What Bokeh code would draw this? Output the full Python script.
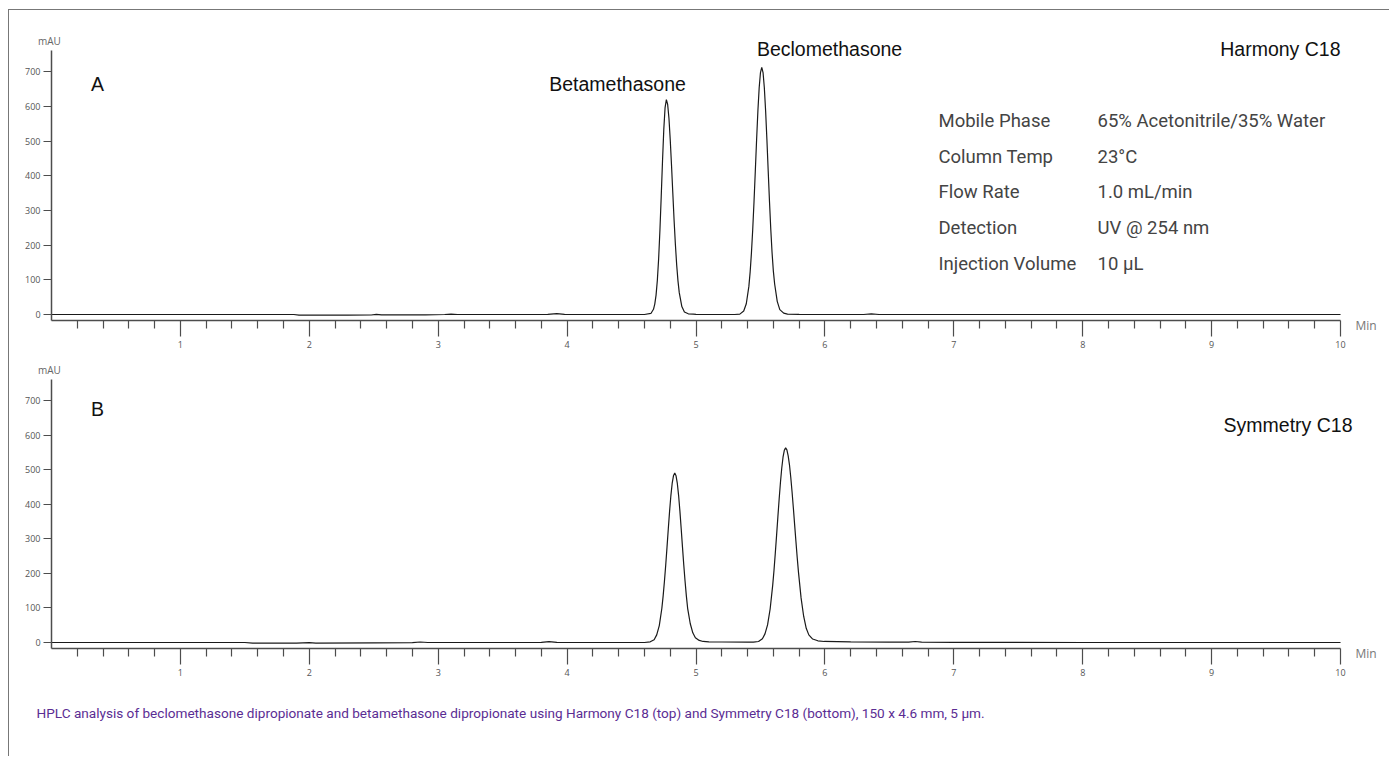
from bokeh.plotting import figure
from bokeh.models import FixedTicker, Label, Range1d, LinearAxis
from bokeh.layouts import column
from bokeh.embed import file_html
from bokeh.resources import INLINE

# ---------------- data ----------------
# Panel A: Harmony C18 (time in min, signal in mAU)
a_time = [0.0, 0.5, 1.0, 1.5, 1.88, 1.92, 2.3, 2.48, 2.52, 2.56, 2.9, 3.05, 3.1, 3.15,
          3.6, 3.85, 3.92, 3.98, 4.2, 4.55,
          4.60, 4.65, 4.67, 4.68, 4.69, 4.70, 4.71, 4.72, 4.73, 4.74, 4.75, 4.76, 4.77,
          4.78, 4.79, 4.80, 4.81, 4.82, 4.83, 4.84, 4.85, 4.86, 4.87, 4.89, 4.91, 4.94, 4.98,
          5.0, 5.2, 5.3,
          5.34, 5.37, 5.39, 5.41, 5.42, 5.43, 5.44, 5.45, 5.46, 5.47, 5.48, 5.49, 5.50, 5.51,
          5.52, 5.53, 5.54, 5.55, 5.56, 5.57, 5.58, 5.59, 5.60, 5.61, 5.63, 5.65, 5.68, 5.71, 5.8,
          6.0, 6.3, 6.36, 6.42, 7.0, 8.0, 9.0, 10.0]
a_signal = [0, 0, 0, 0, 0, -2, -2, -1.5, 0.5, -1, -1, 0, 1, 0,
            0, 0.5, 2.5, 0.5, 0, 0,
            0, 3, 15, 30, 56, 99, 161, 243, 340, 442, 534, 597, 620,
            606, 566, 504, 430, 350, 271, 202, 143, 97, 63, 23, 7, 2, 1,
            0.5, 0, 0,
            1, 10, 31, 81, 123, 178, 246, 326, 414, 504, 587, 654, 698, 713,
            698, 654, 587, 504, 414, 326, 246, 178, 125, 88, 38, 14, 4, 1, 0.5,
            0, 0, 2, 0, 0, 0, 0, 0]

# Panel B: Symmetry C18
b_time = [0.0, 0.5, 1.0, 1.5, 1.56, 1.9, 2.0, 2.05, 2.5, 2.8, 2.86, 2.92, 3.5, 3.8,
          3.86, 3.92, 4.3, 4.6,
          4.645, 4.675, 4.695, 4.715, 4.735, 4.745, 4.755, 4.765, 4.775, 4.785, 4.795, 4.805,
          4.815, 4.825, 4.835, 4.845, 4.855, 4.865, 4.875, 4.885, 4.895, 4.905, 4.915, 4.925,
          4.935, 4.955, 4.975, 4.995, 5.025, 5.055, 5.1,
          5.2, 5.4,
          5.445, 5.485, 5.515, 5.535, 5.555, 5.575, 5.595, 5.605, 5.615, 5.625, 5.635, 5.645,
          5.655, 5.665, 5.675, 5.685, 5.695, 5.705, 5.715, 5.725, 5.735, 5.745, 5.755, 5.765,
          5.775, 5.785, 5.795, 5.815, 5.835, 5.855, 5.875, 5.905, 5.945, 5.995,
          6.2, 6.5, 6.65, 6.7, 6.75, 7.0, 8.0, 9.0, 10.0]
b_signal = [0, 0, 0, 0, -2, -2, -0.5, -1.5, -1, -0.5, 1.5, 0, 0, 0.5,
            2.5, 0.5, 0, 0,
            2, 8, 22, 49, 99, 135, 177, 224, 276, 329, 380, 425,
            460, 482, 490, 482, 460, 425, 380, 329, 276, 224, 177, 135,
            99, 55, 28, 14, 6, 3, 2,
            1.5, 1,
            1, 3, 11, 25, 51, 97, 166, 209, 258, 310, 363, 415,
            463, 504, 536, 556, 563, 557, 540, 514, 478, 436, 390, 341,
            293, 246, 203, 129, 76, 41, 22, 10, 5, 3,
            2, 1, 1, 3, 1, 0.5, 0, 0, 0]

x_major_ticks = [1, 2, 3, 4, 5, 6, 7, 8, 9, 10]
x_minor_ticks = [round(i * 0.2, 1) for i in range(1, 50) if i % 5 != 0]
y_ticks = [0, 100, 200, 300, 400, 500, 600, 700]

info_labels = ["Mobile Phase", "Column Temp", "Flow Rate", "Detection", "Injection Volume"]
info_values = ["65% Acetonitrile/35% Water", "23\u00b0C", "1.0 mL/min", "UV @ 254 nm", "10 \u00b5L"]

caption = ("HPLC analysis of beclomethasone dipropionate and betamethasone dipropionate "
           "using Harmony C18 (top) and Symmetry C18 (bottom), 150 x 4.6 mm, 5 \u00b5m.")

AXIS_COLOR = "#4d4d4d"
ARIAL = "Liberation Sans"
FIG_W = 1380
X_RANGE = (-0.326, 10.38)
Y_AXIS_BOUNDS = (-17, 762)


def make_panel(t, s, height, y_start, y_end):
    p = figure(width=FIG_W, height=height, title=None,
               x_range=Range1d(*X_RANGE), y_range=Range1d(y_start, y_end),
               x_axis_location=None, y_axis_location=None,
               output_backend="svg", toolbar_location=None,
               min_border=0, min_border_left=0, min_border_right=0,
               min_border_top=0, min_border_bottom=0)
    p.grid.visible = False
    p.outline_line_color = None
    p.background_fill_color = "white"
    p.border_fill_color = "white"

    xaxis = LinearAxis(fixed_location=Y_AXIS_BOUNDS[0], bounds=(0, 10),
                       ticker=FixedTicker(ticks=x_major_ticks, minor_ticks=x_minor_ticks))
    xaxis.major_tick_out = 16
    xaxis.major_tick_in = 0
    xaxis.minor_tick_out = 8
    xaxis.minor_tick_in = 0
    xaxis.major_label_standoff = 5

    yaxis = LinearAxis(fixed_location=0, bounds=Y_AXIS_BOUNDS,
                       ticker=FixedTicker(ticks=y_ticks, minor_ticks=[]))
    yaxis.major_tick_out = 8
    yaxis.major_tick_in = 0
    yaxis.minor_tick_out = 0
    yaxis.minor_tick_in = 0
    yaxis.major_label_standoff = 3

    for ax in (xaxis, yaxis):
        ax.axis_line_color = AXIS_COLOR
        ax.axis_line_width = 1.5
        ax.major_tick_line_color = AXIS_COLOR
        ax.major_tick_line_width = 1.2
        ax.minor_tick_line_color = AXIS_COLOR
        ax.minor_tick_line_width = 1.2
        ax.major_label_text_font = "Open Sans"
        ax.major_label_text_font_size = "9px"
        ax.major_label_text_color = "#555555"
    p.add_layout(xaxis, "below")
    p.add_layout(yaxis, "left")

    p.line(t, s, line_color="#1a1a1a", line_width=1.2)

    p.add_layout(Label(x=-0.016, y=Y_AXIS_BOUNDS[1] + 27, text="mAU",
                       text_font="Open Sans", text_font_size="10px",
                       text_color="#666666", text_align="center",
                       text_baseline="middle"))
    p.add_layout(Label(x=10.116, y=Y_AXIS_BOUNDS[0] - 15, text="Min",
                       text_font="Open Sans", text_font_size="12px",
                       text_color="#777777", text_align="left",
                       text_baseline="middle"))
    return p


# page px: panel A zero at y=314 (34.66 px / 100 mAU), panel B zero at y=642
p1 = make_panel(a_time, a_signal, 351, -135.6, 877.0)
p2 = make_panel(b_time, b_signal, 330, -141.7, 812.8)

big = dict(text_font=ARIAL, text_font_size="19.5px", text_color="#111111",
           text_baseline="middle")
p1.add_layout(Label(x=0.357, y=666, text="A", text_align="center", **big))
p2.add_layout(Label(x=0.357, y=674, text="B", text_align="center", **big))
p1.add_layout(Label(x=4.391, y=666, text="Betamethasone", text_align="center", **big))
p1.add_layout(Label(x=6.036, y=765, text="Beclomethasone", text_align="center", **big))
p1.add_layout(Label(x=10.0, y=765, text="Harmony C18", text_align="right", **big))
p2.add_layout(Label(x=10.093, y=628, text="Symmetry C18", text_align="right", **big))

for i, (lab, val) in enumerate(zip(info_labels, info_values)):
    yy = 557 - i * 102.5
    p1.add_layout(Label(x=6.881, y=yy, text=lab, text_font="Roboto",
                        text_font_size="18.5px", text_color="#444444",
                        text_baseline="middle", text_align="left"))
    p1.add_layout(Label(x=8.115, y=yy, text=val, text_font="Roboto",
                        text_font_size="18.5px", text_color="#444444",
                        text_baseline="middle", text_align="left"))

p3 = figure(width=FIG_W, height=65, title=None,
            x_range=Range1d(0, FIG_W), y_range=Range1d(0, 65),
            x_axis_location=None, y_axis_location=None,
            output_backend="svg", toolbar_location=None,
            min_border=0, min_border_left=0, min_border_right=0,
            min_border_top=0, min_border_bottom=0)
p3.grid.visible = False
p3.outline_line_color = None
p3.add_layout(Label(x=27, y=44, text=caption, text_font="Roboto",
                    text_font_size="13.6px", text_color="#5b2d93",
                    text_baseline="middle", text_align="left"))

layout = column(p1, p2, p3, styles={"border-left": "1px solid #777777",
                                    "border-top": "1px solid #777777",
                                    "margin-left": "8px",
                                    "margin-top": "9px"})

open("out.html", "w").write(file_html(layout, INLINE))
